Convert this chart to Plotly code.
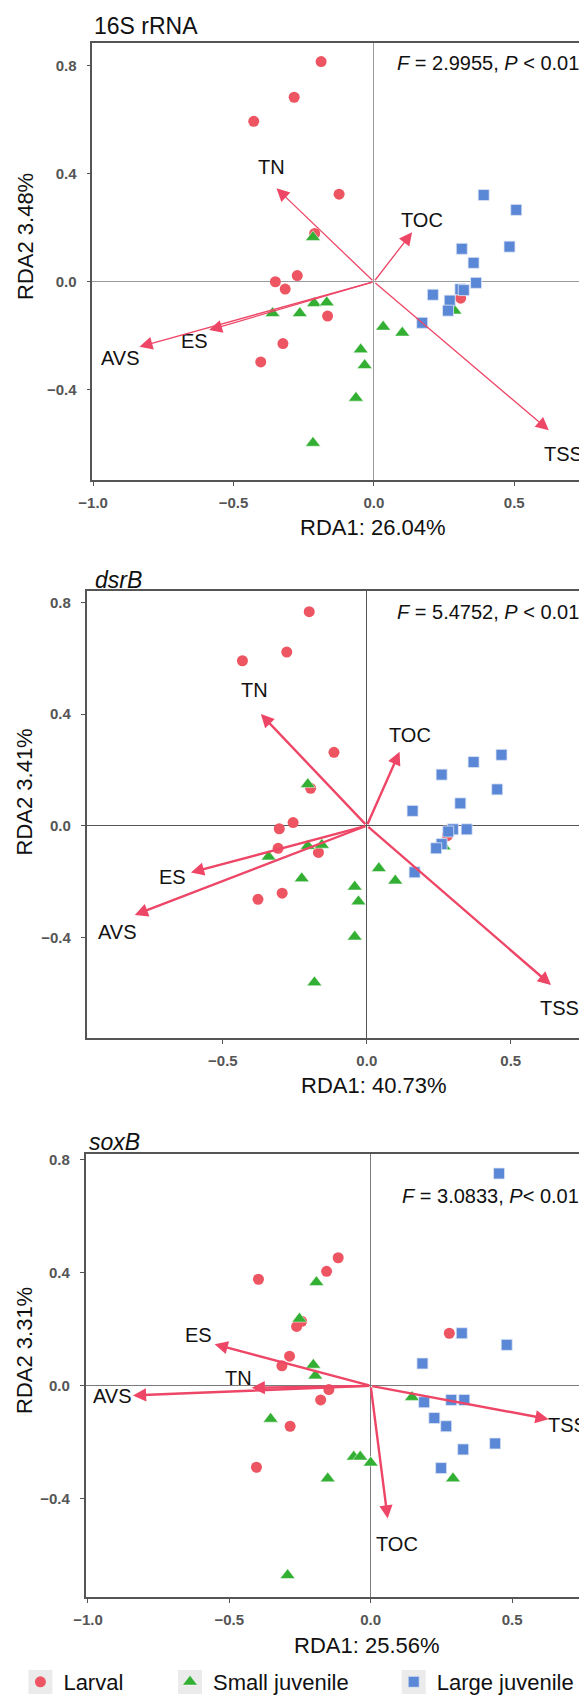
import plotly.graph_objects as go

# Page body has an 8px default margin; the figure is sized/offset to fill the 587x1697 window.
PAGE_W, PAGE_H = 587, 1697
OFF = 8
W, H = PAGE_W - OFF, PAGE_H - OFF
FONT = "Liberation Sans, Arial, sans-serif"

# ---------------- data ----------------
env_vars = ["TN", "TOC", "TSS", "ES", "AVS"]
group_names = ["Larval", "Small juvenile", "Large juvenile"]

# Panel 1: 16S rRNA
larval_x1 = [-0.188, -0.284, -0.428, -0.124, -0.211, -0.351, -0.273, -0.316, -0.165, -0.324, -0.403, 0.309]
larval_y1 = [0.815, 0.683, 0.594, 0.324, 0.179, 0.0, 0.023, -0.027, -0.127, -0.229, -0.297, -0.061]
small_x1 = [-0.217, -0.361, -0.264, -0.213, -0.168, 0.033, 0.101, -0.047, -0.033, -0.064, -0.217, 0.287]
small_y1 = [0.165, -0.117, -0.117, -0.080, -0.077, -0.167, -0.189, -0.251, -0.309, -0.430, -0.597, -0.107]
large_x1 = [0.391, 0.507, 0.483, 0.313, 0.355, 0.364, 0.308, 0.320, 0.210, 0.270, 0.264, 0.172]
large_y1 = [0.321, 0.266, 0.130, 0.122, 0.070, -0.004, -0.028, -0.031, -0.048, -0.070, -0.107, -0.152]
tip_x1 = [-0.347, 0.136, 0.623, -0.587, -0.835]
tip_y1 = [0.346, 0.183, -0.550, -0.179, -0.241]
lab_x1 = [-0.364, 0.173, 0.676, -0.640, -0.901]
lab_y1 = [0.423, 0.229, -0.639, -0.220, -0.284]

# Panel 2: dsrB
larval_x2 = [-0.200, -0.278, -0.432, -0.114, -0.195, -0.256, -0.304, -0.308, -0.168, -0.294, -0.378, 0.280]
larval_y2 = [0.767, 0.622, 0.591, 0.263, 0.134, 0.011, -0.011, -0.081, -0.096, -0.242, -0.264, -0.036]
small_x2 = [-0.205, -0.341, -0.205, -0.156, -0.226, 0.042, 0.099, -0.042, -0.029, -0.042, -0.182, 0.267]
small_y2 = [0.148, -0.111, -0.073, -0.069, -0.189, -0.153, -0.197, -0.219, -0.272, -0.398, -0.562, -0.075]
large_x2 = [0.468, 0.371, 0.260, 0.453, 0.325, 0.159, 0.299, 0.347, 0.283, 0.260, 0.241, 0.166]
large_y2 = [0.254, 0.228, 0.183, 0.130, 0.080, 0.053, -0.013, -0.013, -0.021, -0.066, -0.081, -0.167]
tip_x2 = [-0.368, 0.114, 0.640, -0.611, -0.806]
tip_y2 = [0.400, 0.265, -0.571, -0.168, -0.320]
lab_x2 = [-0.390, 0.150, 0.670, -0.676, -0.865]
lab_y2 = [0.488, 0.325, -0.654, -0.183, -0.380]

# Panel 3: soxB
larval_x3 = [-0.115, -0.156, -0.397, -0.244, -0.262, 0.278, -0.287, -0.314, -0.148, -0.177, -0.285, -0.404]
larval_y3 = [0.453, 0.405, 0.377, 0.228, 0.210, 0.186, 0.105, 0.071, -0.013, -0.050, -0.143, -0.288]
small_x3 = [-0.192, -0.252, -0.203, -0.196, -0.354, 0.146, -0.060, -0.037, 0.0, -0.152, 0.291, -0.294]
small_y3 = [0.366, 0.237, 0.074, 0.036, -0.117, -0.040, -0.251, -0.251, -0.272, -0.328, -0.328, -0.670]
large_x3 = [0.454, 0.322, 0.481, 0.183, 0.189, 0.285, 0.331, 0.225, 0.267, 0.440, 0.327, 0.249]
large_y3 = [0.751, 0.186, 0.145, 0.079, -0.058, -0.050, -0.050, -0.114, -0.143, -0.204, -0.225, -0.291]
tip_x3 = [-0.421, 0.060, 0.629, -0.552, -0.841]
tip_y3 = [-0.007, -0.469, -0.118, 0.147, -0.034]
lab_x3 = [-0.466, 0.093, 0.695, -0.609, -0.914]
lab_y3 = [0.027, -0.559, -0.138, 0.181, -0.036]

panel_titles = ["16S rRNA", "<i>dsrB</i>", "<i>soxB</i>"]
stat_texts = ["<i>F</i> = 2.9955, <i>P</i> &lt; 0.01",
              "<i>F</i> = 5.4752, <i>P</i> &lt; 0.01",
              "<i>F</i> = 3.0833, <i>P</i>&lt; 0.01"]
x_titles = ["RDA1: 26.04%", "RDA1: 40.73%", "RDA1: 25.56%"]
y_titles = ["RDA2 3.48%", "RDA2 3.41%", "RDA2 3.31%"]
x_tickvals = [-1.0, -0.5, 0.0, 0.5]
y_tickvals = [-0.4, 0.0, 0.4, 0.8]

# ---------------- layout geometry (page pixels) ----------------
boxes = [(92.3, 42.7, 480.0), (86.7, 591.0, 1038.3), (85.7, 1154.0, 1597.0)]
x_ranges = [[-1.003, 0.759], [-0.973, 0.765], [-1.008, 0.765]]
y_ranges = [[-0.734, 0.885], [-0.762, 0.841], [-0.747, 0.820]]
title_y = [25.8, 580.0, 1142.0]
title_x = [91.7, 93.0, 86.7]
stat_y = [63.3, 611.7, 1196.3]
xtitle_pos = [(373.3, 527.0), (374.0, 1085.0), (367.0, 1645.0)]
ytitle_pos = [(25.0, 237.0), (24.0, 792.5), (24.0, 1351.0)]
arrow_w = [1.3, 2.4, 2.4]
arrow_size = [2.0, 1.1, 1.1]
zero_col = ["#9a9a9a", "#555555", "#7a7a7a"]

C_RED = "#EE5562"
C_GREEN = "#33B033"
C_BLUE = "#5B88D6"
C_ARROW = "#EE4666"
AXC = "#555555"

data = [
    (larval_x1, larval_y1, small_x1, small_y1, large_x1, large_y1, tip_x1, tip_y1, lab_x1, lab_y1),
    (larval_x2, larval_y2, small_x2, small_y2, large_x2, large_y2, tip_x2, tip_y2, lab_x2, lab_y2),
    (larval_x3, larval_y3, small_x3, small_y3, large_x3, large_y3, tip_x3, tip_y3, lab_x3, lab_y3),
]

fig = go.Figure()
annotations = []
shapes = []
layout_axes = {}


def px_x(v):
    return (v - OFF) / W


def px_y(v):
    return 1 - (v - OFF) / H


for i, d in enumerate(data):
    lx, ly, sx, sy, gx, gy, tx, ty, bx, by = d
    n = "" if i == 0 else str(i + 1)
    xa, ya = "x" + n, "y" + n
    left, top, bottom = boxes[i]
    show = (i == 0)
    fig.add_trace(go.Scatter(x=lx, y=ly, xaxis=xa, yaxis=ya, mode="markers", name=group_names[0],
                             marker=dict(symbol="circle", size=11, color=C_RED, line=dict(width=0)),
                             showlegend=show, legend="legend", cliponaxis=False))
    fig.add_trace(go.Scatter(x=sx, y=sy, xaxis=xa, yaxis=ya, mode="markers", name=group_names[1],
                             marker=dict(symbol="triangle-up", size=13, color=C_GREEN,
                                         line=dict(width=0.5, color="white")),
                             showlegend=show, legend="legend2", cliponaxis=False))
    fig.add_trace(go.Scatter(x=gx, y=gy, xaxis=xa, yaxis=ya, mode="markers", name=group_names[2],
                             marker=dict(symbol="square", size=11, color=C_BLUE,
                                         line=dict(width=0.8, color="#dfe6f5")),
                             showlegend=show, legend="legend3", cliponaxis=False))

    common = dict(showgrid=False, zeroline=True, zerolinewidth=1, zerolinecolor=zero_col[i],
                  showline=True, linecolor=AXC, linewidth=1.6, ticks="outside", ticklen=4,
                  tickwidth=1.3, tickcolor=AXC,
                  tickfont=dict(family=FONT, size=15, color=AXC, weight="bold"))
    layout_axes["xaxis" + n] = dict(common, domain=[px_x(left), 1.0], anchor=ya,
                                    range=x_ranges[i], tickvals=x_tickvals, tickformat=".1f",
                                    mirror=True, ticklabelstandoff=4)
    layout_axes["yaxis" + n] = dict(common, domain=[px_y(bottom), px_y(top)], anchor=xa,
                                    range=y_ranges[i], tickvals=y_tickvals, tickformat=".1f",
                                    ticklabelstandoff=7)

    for k in range(len(env_vars)):
        annotations.append(dict(x=tx[k], y=ty[k], ax=0, ay=0, xref=xa, yref=ya, axref=xa, ayref=ya,
                                text="", showarrow=True, arrowhead=2, arrowsize=arrow_size[i],
                                arrowwidth=arrow_w[i], arrowcolor=C_ARROW, standoff=0, startstandoff=0))
        annotations.append(dict(x=bx[k], y=by[k], xref=xa, yref=ya, text=env_vars[k], showarrow=False,
                                font=dict(family=FONT, size=20, color="#111111"),
                                xanchor="center", yanchor="middle"))
    annotations.append(dict(x=px_x(title_x[i]), y=px_y(title_y[i]), xref="paper", yref="paper",
                            text=panel_titles[i], showarrow=False, xanchor="left", yanchor="middle",
                            font=dict(family=FONT, size=23, color="#111111")))
    annotations.append(dict(x=px_x(581), y=px_y(stat_y[i]), xref="paper", yref="paper",
                            text=stat_texts[i], showarrow=False, xanchor="right", yanchor="middle",
                            font=dict(family=FONT, size=20, color="#111111")))
    annotations.append(dict(x=px_x(xtitle_pos[i][0]), y=px_y(xtitle_pos[i][1]), xref="paper", yref="paper",
                            text=x_titles[i], showarrow=False, xanchor="center", yanchor="middle",
                            font=dict(family=FONT, size=22, color="#111111")))
    annotations.append(dict(x=px_x(ytitle_pos[i][0]), y=px_y(ytitle_pos[i][1]), xref="paper", yref="paper",
                            text=y_titles[i], showarrow=False, xanchor="center", yanchor="middle",
                            textangle=-90, font=dict(family=FONT, size=22, color="#111111")))

# legend key backgrounds
LEG_Y = 1682
LEG_MX = [40.4, 190.0, 413.7]
for cx in LEG_MX:
    shapes.append(dict(type="rect", xref="paper", yref="paper", layer="above",
                       x0=px_x(cx - 12), x1=px_x(cx + 12), y0=px_y(LEG_Y + 12), y1=px_y(LEG_Y - 12),
                       fillcolor="#EBEBEB", line=dict(width=0)))

leg_common = dict(orientation="h", yanchor="middle", xanchor="left", bgcolor="rgba(0,0,0,0)",
                  font=dict(family=FONT, size=22, color="#111111"), borderwidth=0, itemwidth=36)
fig.update_layout(
    width=W, height=H,
    margin=dict(l=0, r=0, t=0, b=0, autoexpand=False),
    paper_bgcolor="white", plot_bgcolor="white",
    annotations=annotations, shapes=shapes,
    legend=dict(leg_common, x=px_x(LEG_MX[0] - 23), y=px_y(LEG_Y)),
    legend2=dict(leg_common, x=px_x(LEG_MX[1] - 23), y=px_y(LEG_Y)),
    legend3=dict(leg_common, x=px_x(LEG_MX[2] - 23), y=px_y(LEG_Y)),
    **layout_axes,
)

fig.write_html("out.html")
